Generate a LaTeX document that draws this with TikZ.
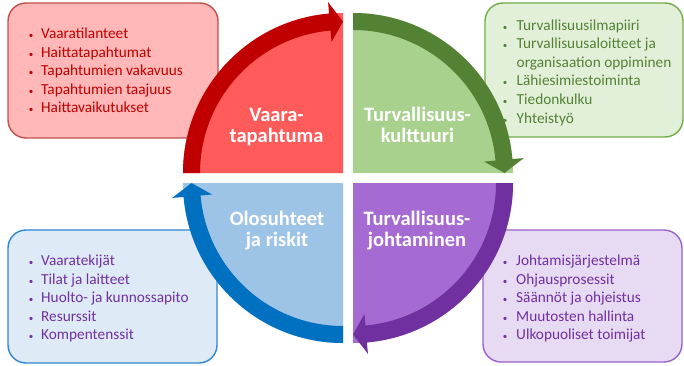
\documentclass[tikz,border=0pt]{standalone}
\usepackage{fontspec}
\setmainfont{Carlito}
\usetikzlibrary{calc}

% palette
\definecolor{redFill}{HTML}{FF5B5B}
\definecolor{redBand}{HTML}{C00000}
\definecolor{redBox}{HTML}{FFB7B7}
\definecolor{redEdge}{HTML}{C0504D}
\definecolor{redText}{HTML}{C00000}
\definecolor{greenFill}{HTML}{A9D18E}
\definecolor{greenBand}{HTML}{548235}
\definecolor{greenBox}{HTML}{E2F0D9}
\definecolor{greenEdge}{HTML}{70AD47}
\definecolor{greenText}{HTML}{548235}
\definecolor{purpleFill}{HTML}{A66BD3}
\definecolor{purpleBand}{HTML}{7030A0}
\definecolor{purpleBox}{HTML}{E7DAF3}
\definecolor{purpleEdge}{HTML}{9A62C8}
\definecolor{purpleText}{HTML}{7030A0}
\definecolor{blueFill}{HTML}{9DC3E6}
\definecolor{blueBand}{HTML}{0070C0}
\definecolor{blueBox}{HTML}{DEEBF7}
\definecolor{blueEdge}{HTML}{2E86D1}

% band along the outer rim of a quarter disc, ending in an arrow head
% #1 = start angle (runs clockwise by 90 degrees), #2 = colour
\newcommand{\rimarrow}[2]{%
  \fill[#2] (#1:143) -- (#1:160)
    arc[start angle=#1, end angle=#1-85, radius=160]
    -- (#1-85:171.5) -- (#1-90:151.5) -- (#1-85:131.5) -- (#1-85:143)
    arc[start angle=#1-85, end angle=#1, radius=143] -- cycle;}

% quarter disc with corner at the origin
\newcommand{\quarterdisc}[2]{%
  \fill[#2] (0,0) -- (#1:160) arc[start angle=#1, end angle=#1-90, radius=160] -- cycle;}

\tikzset{
  listbox/.style={rounded corners=18pt, line width=1.4pt, inner sep=0pt},
  listtext/.style={anchor=base west, inner sep=0pt,
    font=\fontsize{15.3}{18.5}\selectfont},
  quadlabel/.style={anchor=base, inner sep=0pt, text=white,
    font=\fontsize{20.5}{21.5}\selectfont\bfseries},
}

\newcommand{\bul}[1]{\makebox[#1pt][c]{\small•}}

\begin{document}
\begin{tikzpicture}[x=1pt, y=1pt]
\useasboundingbox (0,0) rectangle (684,365);

% list boxes (behind the wheel)
\node[listbox, draw=redEdge, fill=redBox, minimum width=210pt, minimum height=135pt]
  (boxHazard) at (113,294.5) {};
\node[listbox, draw=greenEdge, fill=greenBox, minimum width=198pt, minimum height=134pt]
  (boxCulture) at (584,295) {};
\node[listbox, draw=blueEdge, fill=blueBox, minimum width=209pt, minimum height=133pt]
  (boxRisks) at (112.5,68.5) {};
\node[listbox, draw=purpleEdge, fill=purpleBox, minimum width=199pt, minimum height=132pt]
  (boxMgmt) at (582.5,69) {};

\node[listtext, text=redText] (listHazard) at (21,326.2) {%
  \begin{tabular}[t]{@{}l@{}l@{}}
  \bul{20} & Vaaratilanteet\\
  \bul{20} & Haittatapahtumat\\
  \bul{20} & Tapahtumien vakavuus\\
  \bul{20} & Tapahtumien taajuus\\
  \bul{20} & Haittavaikutukset
  \end{tabular}};

\node[listtext, text=greenText] (listCulture) at (493.5,334.5) {%
  \begin{tabular}[t]{@{}l@{}l@{}}
  \bul{23} & Turvallisuusilmapiiri\\
  \bul{23} & Turvallisuusaloitteet ja\\
           & organisaation oppiminen\\
  \bul{23} & Lähiesimiestoiminta\\
  \bul{23} & Tiedonkulku\\
  \bul{23} & Yhteistyö
  \end{tabular}};

\node[listtext, text=purpleText] (listRisks) at (21,99.5) {%
  \begin{tabular}[t]{@{}l@{}l@{}}
  \bul{20} & Vaaratekijät\\
  \bul{20} & Tilat ja laitteet\\
  \bul{20} & Huolto- ja kunnossapito\\
  \bul{20} & Resurssit\\
  \bul{20} & Kompentenssit
  \end{tabular}};

\node[listtext, text=purpleText] (listMgmt) at (494,99.5) {%
  \begin{tabular}[t]{@{}l@{}l@{}}
  \bul{22} & Johtamisjärjestelmä\\
  \bul{22} & Ohjausprosessit\\
  \bul{22} & Säännöt ja ohjeistus\\
  \bul{22} & Muutosten hallinta\\
  \bul{22} & Ulkopuoliset toimijat
  \end{tabular}};

% the wheel: four quarter discs, each with a clockwise rim arrow
\begin{scope}[shift={(343,192)}]
  \quarterdisc{180}{redFill}
  \rimarrow{180}{redBand}
\end{scope}
\begin{scope}[shift={(353,192)}]
  \quarterdisc{90}{greenFill}
  \rimarrow{90}{greenBand}
\end{scope}
\begin{scope}[shift={(353,182)}]
  \quarterdisc{0}{purpleFill}
  \rimarrow{0}{purpleBand}
\end{scope}
\begin{scope}[shift={(343,182)}]
  \quarterdisc{-90}{blueFill}
  \rimarrow{-90}{blueBand}
\end{scope}

% quadrant titles
\node[quadlabel] (lblHazard) at (276.5,244) {\begin{tabular}[t]{@{}c@{}}Vaara-\\tapahtuma\end{tabular}};
\node[quadlabel] (lblCulture) at (417.5,244) {\begin{tabular}[t]{@{}c@{}}Turvallisuus-\\kulttuuri\end{tabular}};
\node[quadlabel] (lblRisks) at (277,140) {\begin{tabular}[t]{@{}c@{}}Olosuhteet\\ja riskit\end{tabular}};
\node[quadlabel] (lblMgmt) at (417,140) {\begin{tabular}[t]{@{}c@{}}Turvallisuus-\\johtaminen\end{tabular}};
\end{tikzpicture}
\end{document}
